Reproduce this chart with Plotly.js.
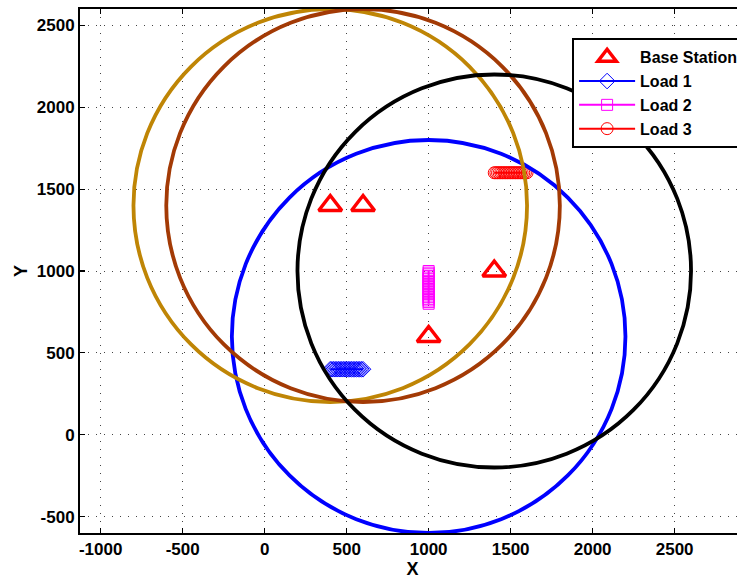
<!DOCTYPE html>
<html>
<head>
<meta charset="utf-8">
<script src="https://cdn.plot.ly/plotly-3.0.1.min.js"></script>
<style>
  html, body { margin: 0; padding: 0; overflow: hidden; background: #fff; }
  #chart { width: 780px; height: 579px; }
</style>
</head>
<body>
<div id="chart"></div>
<script>
// Base station positions (coverage circles are centred on these)
const stationX = [1000, 400, 600, 1400];
const stationY = [600, 1400, 1400, 1000];
const coverageRadius = [1200, 1200, 1200, 1200];
const coverageColor = ['#0000ff', '#bf8505', '#a33a05', '#000000'];

// Load trajectories
const load1X = [400, 410, 420, 430, 440, 450, 460, 470, 480, 490, 500, 510, 520, 530, 540, 550, 560, 570, 580, 590, 600];
const load1Y = [400, 400, 400, 400, 400, 400, 400, 400, 400, 400, 400, 400, 400, 400, 400, 400, 400, 400, 400, 400, 400];
const load2X = [1000, 1000, 1000, 1000, 1000, 1000, 1000, 1000, 1000, 1000, 1000, 1000, 1000, 1000, 1000, 1000, 1000, 1000, 1000, 1000, 1000];
const load2Y = [800, 810, 820, 830, 840, 850, 860, 870, 880, 890, 900, 910, 920, 930, 940, 950, 960, 970, 980, 990, 1000];
const load3X = [1400, 1410, 1420, 1430, 1440, 1450, 1460, 1470, 1480, 1490, 1500, 1510, 1520, 1530, 1540, 1550, 1560, 1570, 1580, 1590, 1600];
const load3Y = [1600, 1600, 1600, 1600, 1600, 1600, 1600, 1600, 1600, 1600, 1600, 1600, 1600, 1600, 1600, 1600, 1600, 1600, 1600, 1600, 1600];

const tickVals = [-1000, -500, 0, 500, 1000, 1500, 2000, 2500];

const FONT = 'Liberation Sans, Arial, Helvetica, sans-serif';

const traces = [
  {
    name: 'Base Station', x: stationX, y: stationY, mode: 'markers',
    marker: { symbol: 'triangle-up-open', size: 20, color: '#ff0000', line: { width: 3.5, color: '#ff0000' } }
  },
  {
    name: 'Load 1', x: load1X, y: load1Y, mode: 'lines+markers',
    line: { color: '#0000ff', width: 2 },
    marker: { symbol: 'diamond-open', size: 12, color: '#0000ff', line: { width: 1, color: '#0000ff' } }
  },
  {
    name: 'Load 2', x: load2X, y: load2Y, mode: 'lines+markers',
    line: { color: '#ff00ff', width: 2 },
    marker: { symbol: 'square-open', size: 11, color: '#ff00ff', line: { width: 1, color: '#ff00ff' } }
  },
  {
    name: 'Load 3', x: load3X, y: load3Y, mode: 'lines+markers',
    line: { color: '#ff0000', width: 2 },
    marker: { symbol: 'circle-open', size: 12, color: '#ff0000', line: { width: 1, color: '#ff0000' } }
  }
];

// Coverage circles, drawn in data coordinates above the markers
const shapes = stationX.map((cx, i) => ({
  type: 'circle', xref: 'x', yref: 'y', layer: 'above',
  x0: cx - coverageRadius[i], x1: cx + coverageRadius[i],
  y0: stationY[i] - coverageRadius[i], y1: stationY[i] + coverageRadius[i],
  line: { color: coverageColor[i], width: 3.8 }
}));

const axisCommon = {
  tickvals: tickVals,
  ticktext: tickVals.map(String),
  ticks: 'inside', ticklen: 5, tickwidth: 1.2, tickcolor: '#000',
  showline: true, linecolor: '#000', linewidth: 2, mirror: 'ticks',
  showgrid: true, gridcolor: '#444', gridwidth: 1, griddash: '1px,7px',
  zeroline: false,
  tickfont: { family: FONT, size: 17, color: '#000', weight: 'bold' }
};

const layout = {
  width: 780, height: 579,
  margin: { l: 80, r: 35, t: 9, b: 46 },
  paper_bgcolor: '#fff', plot_bgcolor: '#fff',
  showlegend: true,
  xaxis: Object.assign({}, axisCommon, {
    range: [-1126, 2929],
    title: { text: 'X', font: { family: FONT, size: 18, color: '#000', weight: 'bold' }, standoff: 4 }
  }),
  yaxis: Object.assign({}, axisCommon, {
    range: [-600, 2600],
    title: { text: 'Y', font: { family: FONT, size: 18, color: '#000', weight: 'bold' }, standoff: 4 }
  }),
  legend: {
    x: 0.74, y: 0.944, xanchor: 'left', yanchor: 'top',
    bgcolor: '#fff', bordercolor: '#000', borderwidth: 2,
    font: { family: FONT, size: 16, color: '#000', weight: 'bold' },
    itemwidth: 56
  },
  shapes: shapes
};

Plotly.newPlot('chart', traces, layout, { displayModeBar: false, staticPlot: true });
</script>
</body>
</html>
